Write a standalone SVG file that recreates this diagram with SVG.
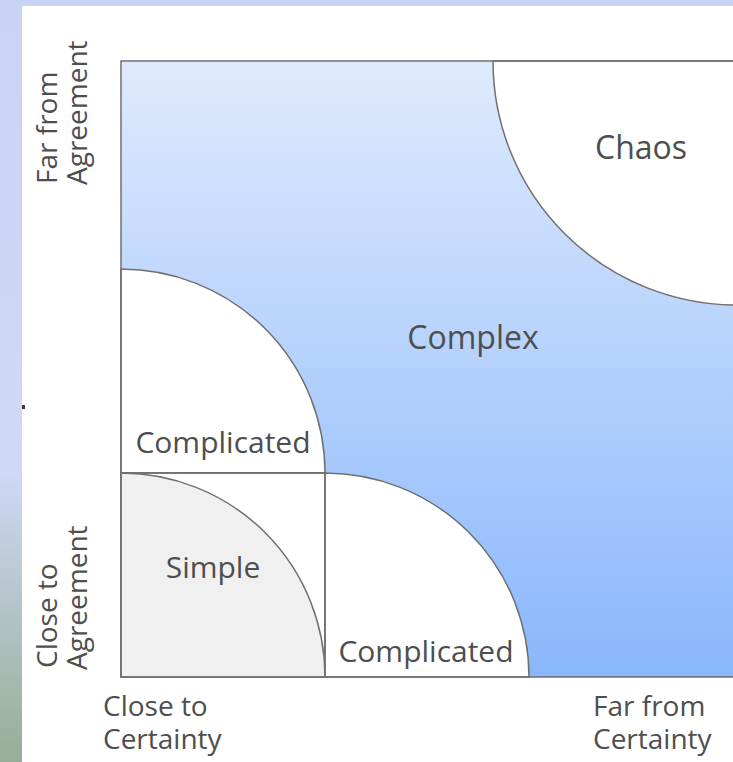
<svg xmlns="http://www.w3.org/2000/svg" width="733" height="762" viewBox="0 0 733 762">
<defs>
<linearGradient id="side" x1="0" y1="0" x2="0" y2="1">
<stop offset="0" stop-color="#c9d3f5"/>
<stop offset="0.62" stop-color="#cdd9f6"/>
<stop offset="1" stop-color="#97ad96"/>
</linearGradient>
<linearGradient id="field" x1="0" y1="0" x2="0" y2="1">
<stop offset="0" stop-color="#dfeafd"/>
<stop offset="1" stop-color="#89b7fc"/>
</linearGradient>
<style>
.lbl{font-family:"Open Sans","Noto Sans","Liberation Sans",sans-serif;fill:#4e4e4e;}
.big{font-size:32px;text-anchor:middle;}
.mid{font-size:30px;text-anchor:middle;}
.ax{font-size:28px;}
.edge{fill:none;stroke:#707070;stroke-width:1.5;}
.white{fill:#ffffff;stroke:#707070;stroke-width:1.5;}
</style>
</defs>
<rect x="0" y="0" width="733" height="762" fill="#ffffff"/>
<rect x="0" y="0" width="733" height="6" fill="#c9d3f5"/>
<rect x="0" y="0" width="22" height="762" fill="url(#side)"/>
<rect x="22" y="405" width="3" height="4" fill="#3a3a4a"/>

<g id="complex">
<rect x="121" y="61" width="620" height="616" fill="url(#field)"/>
<text class="lbl big" x="473" y="349">Complex</text>
</g>
<g id="chaos">
<path class="white" d="M493,61 A244,244 0 0 0 737,305 L737,61 Z"/>
<text class="lbl big" x="641" y="159">Chaos</text>
</g>
<g id="complicated-upper">
<path class="white" d="M121,269 A204,204 0 0 1 325,473 L121,473 Z"/>
<text class="lbl mid" x="223" y="453">Complicated</text>
</g>
<g id="simple">
<rect class="white" x="121" y="473" width="204" height="204"/>
<path d="M121,473 A204,204 0 0 1 325,677 L121,677 Z" fill="#f0f0f0" stroke="#707070" stroke-width="1.5"/>
<text class="lbl mid" x="213" y="578">Simple</text>
</g>
<g id="complicated-lower">
<path class="white" d="M325,473 A204,204 0 0 1 529,677 L325,677 Z"/>
<text class="lbl mid" x="426" y="662">Complicated</text>
</g>
<g id="frame">
<path class="edge" d="M733,61 L121,61 L121,677 L733,677"/>
<path class="edge" d="M121,473 L325,473 M325,473 L325,677"/>
</g>
<g id="axis-labels">
<text class="lbl ax" x="103" y="716">Close to</text>
<text class="lbl ax" x="103" y="749">Certainty</text>
<text class="lbl ax" x="593" y="716">Far from</text>
<text class="lbl ax" x="593" y="749">Certainty</text>
<text class="lbl ax" transform="translate(57,668) rotate(-90)">Close to</text>
<text class="lbl ax" transform="translate(87,670) rotate(-90)">Agreement</text>
<text class="lbl ax" transform="translate(57,184) rotate(-90)">Far from</text>
<text class="lbl ax" transform="translate(87,185) rotate(-90)">Agreement</text>
</g>
</svg>
